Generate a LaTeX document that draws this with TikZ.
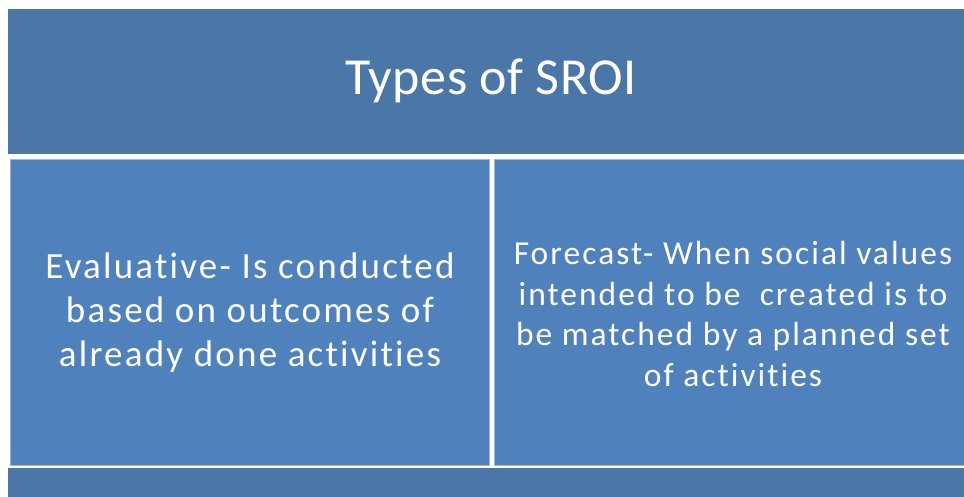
\documentclass[tikz,border=0pt]{standalone}
\usepackage{fontspec}
\setmainfont{Carlito}[Ligatures=NoCommon]
\newfontfamily\bodyfont{Carlito}[Ligatures=NoCommon, LetterSpace=6]
\newfontfamily\titlefont{Carlito}[Ligatures=NoCommon, LetterSpace=1]
\definecolor{titleblue}{RGB}{74,118,168}
\definecolor{boxblue}{RGB}{79,129,189}
\definecolor{edgeblue}{RGB}{160,185,218}
\tikzset{
  bar/.style={fill=titleblue, draw=none},
  cell/.style={fill=boxblue, draw=edgeblue, line width=0.8pt},
  txt/.style={text=white, align=center, inner sep=0pt}
}
\begin{document}
\begin{tikzpicture}[x=1pt,y=-1pt]
\useasboundingbox[fill=white] (0,0) rectangle (964,497);
\path[bar] (8,9) rectangle (964,154);
\path[cell] (10.5,159.5) rectangle (489,465);
\path[cell] (494.5,159.5) rectangle (964.5,465);
\path[bar] (8,468) rectangle (964,497);
\node[txt, font=\titlefont\fontsize{52}{62}\selectfont] (title) at (491,81) {Types of SROI};
\node[txt, font=\bodyfont\fontsize{37}{44}\selectfont] (eval) at (250,313) {Evaluative- Is conducted\\based on outcomes of\\already done activities};
\node[txt, font=\bodyfont\fontsize{33.5}{40.5}\selectfont] (fore) at (733,314) {Forecast- When social values\\intended to be \ created is to\\be matched by a planned set\\of activities};
\end{tikzpicture}
\end{document}
